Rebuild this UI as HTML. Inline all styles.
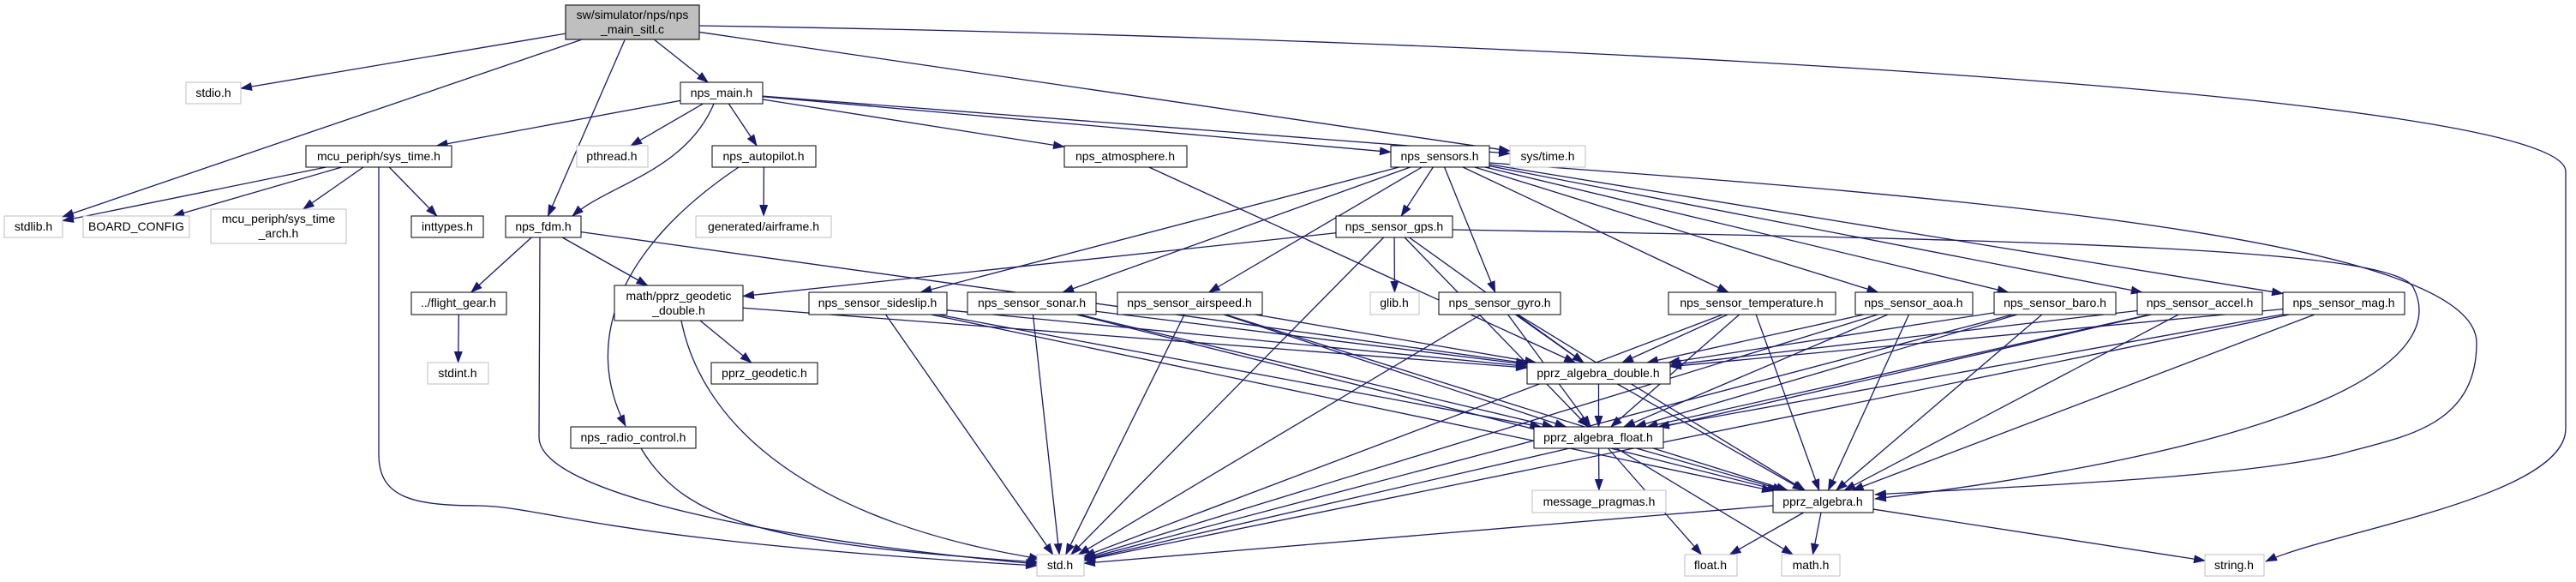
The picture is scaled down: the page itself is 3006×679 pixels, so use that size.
<!DOCTYPE html>
<html><head><meta charset="utf-8">
<style>
html,body{margin:0;padding:0;background:#fff;}
svg{display:block;}
text{font-family:"Liberation Sans",sans-serif;font-size:14px;fill:#000;}
</style></head>
<body>
<svg id="g" width="3006" height="679" viewBox="0 0 3006 679" xmlns="http://www.w3.org/2000/svg">
<defs>
<marker id="ah" markerUnits="userSpaceOnUse" markerWidth="14" markerHeight="10" refX="13" refY="5" orient="auto">
<path d="M0,0 L14,5 L0,10 z" fill="#191970"/>
</marker>
</defs>
<g id="edges" fill="none" stroke="#191970" stroke-width="1.3"></g>
<g id="nodes">
<rect x="660" y="6" width="156" height="40" fill="#bfbfbf" stroke="#404040" stroke-width="1.5"/>
<text x="738" y="22" text-anchor="middle">sw/simulator/nps/nps</text>
<text x="738" y="39" text-anchor="middle">_main_sitl.c</text>

<rect x="217" y="96" width="64" height="25" fill="#fff" stroke="#bfbfbf"/><text x="249" y="113" text-anchor="middle">stdio.h</text>
<rect x="794" y="96" width="96" height="25" fill="#fff" stroke="#000"/><text x="842" y="113" text-anchor="middle">nps_main.h</text>

<rect x="357" y="170" width="170" height="25" fill="#fff" stroke="#000"/><text x="442" y="187" text-anchor="middle">mcu_periph/sys_time.h</text>
<rect x="673" y="170" width="83" height="25" fill="#fff" stroke="#bfbfbf"/><text x="714" y="187" text-anchor="middle">pthread.h</text>
<rect x="831" y="170" width="121" height="25" fill="#fff" stroke="#000"/><text x="891" y="187" text-anchor="middle">nps_autopilot.h</text>
<rect x="1242" y="170" width="143" height="25" fill="#fff" stroke="#000"/><text x="1313" y="187" text-anchor="middle">nps_atmosphere.h</text>
<rect x="1623" y="170" width="115" height="25" fill="#fff" stroke="#000"/><text x="1680" y="187" text-anchor="middle">nps_sensors.h</text>
<rect x="1762" y="170" width="88" height="25" fill="#fff" stroke="#bfbfbf"/><text x="1806" y="187" text-anchor="middle">sys/time.h</text>

<rect x="5" y="252" width="68" height="25" fill="#fff" stroke="#bfbfbf"/><text x="39" y="269" text-anchor="middle">stdlib.h</text>
<rect x="97" y="252" width="124" height="25" fill="#fff" stroke="#bfbfbf"/><text x="159" y="269" text-anchor="middle">BOARD_CONFIG</text>
<rect x="246" y="244" width="158" height="40" fill="#fff" stroke="#bfbfbf"/>
<text x="325" y="260" text-anchor="middle">mcu_periph/sys_time</text><text x="325" y="277" text-anchor="middle">_arch.h</text>
<rect x="480" y="252" width="84" height="25" fill="#fff" stroke="#000"/><text x="522" y="269" text-anchor="middle">inttypes.h</text>
<rect x="590" y="252" width="88" height="25" fill="#fff" stroke="#000"/><text x="634" y="269" text-anchor="middle">nps_fdm.h</text>
<rect x="812" y="252" width="158" height="25" fill="#fff" stroke="#bfbfbf"/><text x="891" y="269" text-anchor="middle">generated/airframe.h</text>
<rect x="1559" y="252" width="136" height="25" fill="#fff" stroke="#000"/><text x="1627" y="269" text-anchor="middle">nps_sensor_gps.h</text>

<rect x="480" y="341" width="111" height="26" fill="#fff" stroke="#000"/><text x="535" y="358" text-anchor="middle">../flight_gear.h</text>
<rect x="717" y="333" width="150" height="41" fill="#fff" stroke="#000"/>
<text x="792" y="350" text-anchor="middle">math/pprz_geodetic</text><text x="792" y="367" text-anchor="middle">_double.h</text>
<rect x="944" y="341" width="161" height="26" fill="#fff" stroke="#000"/><text x="1024" y="358" text-anchor="middle">nps_sensor_sideslip.h</text>
<rect x="1129" y="341" width="150" height="26" fill="#fff" stroke="#000"/><text x="1204" y="358" text-anchor="middle">nps_sensor_sonar.h</text>
<rect x="1304" y="341" width="169" height="26" fill="#fff" stroke="#000"/><text x="1388" y="358" text-anchor="middle">nps_sensor_airspeed.h</text>
<rect x="1599" y="341" width="57" height="26" fill="#fff" stroke="#bfbfbf"/><text x="1627" y="358" text-anchor="middle">glib.h</text>
<rect x="1679" y="341" width="142" height="26" fill="#fff" stroke="#000"/><text x="1750" y="358" text-anchor="middle">nps_sensor_gyro.h</text>
<rect x="1947" y="341" width="195" height="26" fill="#fff" stroke="#000"/><text x="2044" y="358" text-anchor="middle">nps_sensor_temperature.h</text>
<rect x="2165" y="341" width="137" height="26" fill="#fff" stroke="#000"/><text x="2233" y="358" text-anchor="middle">nps_sensor_aoa.h</text>
<rect x="2327" y="341" width="142" height="26" fill="#fff" stroke="#000"/><text x="2398" y="358" text-anchor="middle">nps_sensor_baro.h</text>
<rect x="2494" y="341" width="146" height="26" fill="#fff" stroke="#000"/><text x="2567" y="358" text-anchor="middle">nps_sensor_accel.h</text>
<rect x="2664" y="341" width="142" height="26" fill="#fff" stroke="#000"/><text x="2735" y="358" text-anchor="middle">nps_sensor_mag.h</text>

<rect x="499" y="423" width="71" height="25" fill="#fff" stroke="#bfbfbf"/><text x="534" y="440" text-anchor="middle">stdint.h</text>
<rect x="830" y="423" width="124" height="25" fill="#fff" stroke="#000"/><text x="892" y="440" text-anchor="middle">pprz_geodetic.h</text>
<rect x="1782" y="423" width="167" height="25" fill="#fff" stroke="#000"/><text x="1865" y="440" text-anchor="middle">pprz_algebra_double.h</text>

<rect x="666" y="498" width="146" height="25" fill="#fff" stroke="#000"/><text x="739" y="515" text-anchor="middle">nps_radio_control.h</text>
<rect x="1790" y="498" width="151" height="25" fill="#fff" stroke="#000"/><text x="1865" y="515" text-anchor="middle">pprz_algebra_float.h</text>

<rect x="1788" y="572" width="156" height="26" fill="#fff" stroke="#bfbfbf"/><text x="1866" y="590" text-anchor="middle">message_pragmas.h</text>
<rect x="2069" y="572" width="117" height="26" fill="#fff" stroke="#000"/><text x="2127" y="590" text-anchor="middle">pprz_algebra.h</text>

<rect x="1210" y="647" width="55" height="25" fill="#fff" stroke="#bfbfbf"/><text x="1237" y="664" text-anchor="middle">std.h</text>
<rect x="1966" y="647" width="61" height="25" fill="#fff" stroke="#bfbfbf"/><text x="1996" y="664" text-anchor="middle">float.h</text>
<rect x="2079" y="647" width="68" height="25" fill="#fff" stroke="#bfbfbf"/><text x="2113" y="664" text-anchor="middle">math.h</text>
<rect x="2573" y="647" width="69" height="25" fill="#fff" stroke="#bfbfbf"/><text x="2607" y="664" text-anchor="middle">string.h</text>
</g>
</svg>
<script>
var N={
main:[660,6,816,46],stdio:[217,96,281,121],nps_main:[794,96,890,121],
systime:[357,170,527,195],pthread:[673,170,756,195],autopilot:[831,170,952,195],
atmos:[1242,170,1385,195],sensors:[1623,170,1738,195],systimeh:[1762,170,1850,195],
stdlib:[5,252,73,277],board:[97,252,221,277],arch:[246,244,404,284],inttypes:[480,252,564,277],
fdm:[590,252,678,277],airframe:[812,252,970,277],gps:[1559,252,1695,277],
fg:[480,341,591,367],geod:[717,333,867,374],sideslip:[944,341,1105,367],sonar:[1129,341,1279,367],
airspeed:[1304,341,1473,367],glib:[1599,341,1656,367],gyro:[1679,341,1821,367],temp:[1947,341,2142,367],
aoa:[2165,341,2302,367],baro:[2327,341,2469,367],accel:[2494,341,2640,367],mag:[2664,341,2806,367],
stdint:[499,423,570,448],geodetic:[830,423,954,448],ad:[1782,423,1949,448],radio:[666,498,812,523],
af:[1790,498,1941,523],msg:[1788,572,1944,598],alg:[2069,572,2186,598],
std:[1210,647,1265,672],float:[1966,647,2027,672],math:[2079,647,2147,672],string:[2573,647,2642,672]};
function c(n){return [(n[0]+n[2])/2,(n[1]+n[3])/2];}
function clip(n,px,py){var C=c(n),dx=px-C[0],dy=py-C[1];var hw=(n[2]-n[0])/2,hh=(n[3]-n[1])/2;
var t=Math.min(dx?hw/Math.abs(dx):1e9,dy?hh/Math.abs(dy):1e9);return [C[0]+dx*t,C[1]+dy*t];}
var g=document.getElementById('edges'),ns='http://www.w3.org/2000/svg';
function P(d){var p=document.createElementNS(ns,'path');p.setAttribute('d',d);p.setAttribute('marker-end','url(#ah)');g.appendChild(p);}
function E(a,b){var A=N[a],B=N[b],ca=c(A),cb=c(B);var s=clip(A,cb[0],cb[1]),e=clip(B,ca[0],ca[1]);P('M'+s[0]+','+s[1]+'L'+e[0]+','+e[1]);}
var list=[
['main','stdio'],['main','stdlib'],['main','fdm'],['main','nps_main'],['main','systimeh'],
['nps_main','systime'],['nps_main','pthread'],['nps_main','autopilot'],['nps_main','atmos'],['nps_main','sensors'],['nps_main','systimeh'],
['systime','stdlib'],['systime','board'],['systime','arch'],['systime','inttypes'],
['autopilot','airframe'],['atmos','ad'],
['fdm','fg'],['fdm','geod'],['fdm','ad'],['fg','stdint'],['geod','geodetic'],['geod','ad'],
['sensors','gps'],['sensors','sideslip'],['sensors','sonar'],['sensors','airspeed'],['sensors','gyro'],['sensors','temp'],['sensors','aoa'],['sensors','baro'],['sensors','accel'],['sensors','mag'],
['gps','geod'],['gps','std'],['gps','glib'],['gps','af'],['gps','ad'],
['ad','af'],['ad','alg'],['af','msg'],['af','alg'],['af','float'],['af','math'],
['alg','std'],['alg','float'],['alg','math'],['alg','string']];
['sideslip','sonar','airspeed','gyro','temp','aoa','baro','accel','mag'].forEach(function(k){list.push([k,'ad'],[k,'af'],[k,'alg'],[k,'std']);});
list.forEach(function(x){E(x[0],x[1]);});
P('M816,30 C1800,45 2994,110 2994,200 L2994,500 C2994,580 2720,620 2644,655');
P('M442,195 L442,530 C442,580 480,590 560,590 C640,592 700,630 1210,660');
P('M630,277 L629,510 C629,575 900,630 1210,658');
P('M833,121 C800,200 710,215 668,252');
P('M862,195 C720,290 680,400 730,497');
P('M795,374 C820,500 950,610 1214,652');
P('M748,523 C800,610 900,635 1212,656');
P('M1738,190 C2300,230 2890,280 2890,400 C2890,500 2800,510 2730,530 C2600,560 2300,570 2188,577');
P('M1695,268 C2400,280 2790,290 2816,335 C2860,420 2700,520 2188,582');
</script>
</body></html>
